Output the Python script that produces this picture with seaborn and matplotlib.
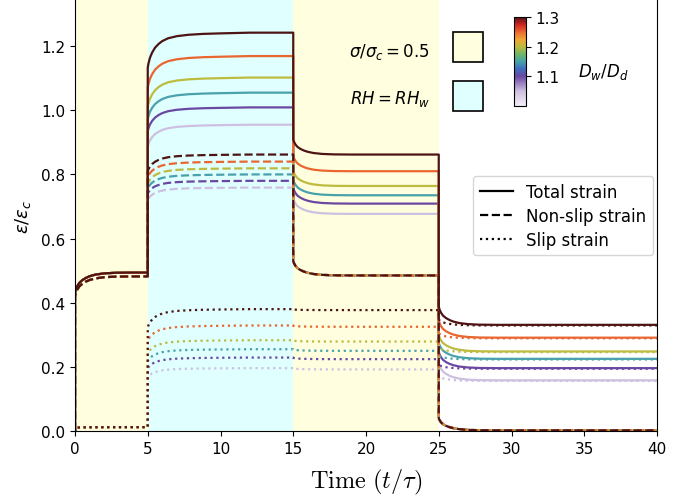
import matplotlib
matplotlib.use("Agg")
import matplotlib.pyplot as plt
import numpy as np
import pandas as pd
import seaborn as sns
from matplotlib.colors import LinearSegmentedColormap, Normalize
from matplotlib.cm import ScalarMappable
from matplotlib.lines import Line2D
from matplotlib.patches import Rectangle

# Wet/dry diffusivity ratio of each run
D_ratio = [1.05, 1.10, 1.15, 1.20, 1.25, 1.30]

# Stage boundaries: load (dry), wetting, re-drying, unloading
stage_times = [0, 5, 15, 25, 40]

# Non-slip strain: (level right after the stage switch, level at stage end)
nonslip_load = (0.42, 0.482)
nonslip_wet_start = [0.720, 0.740, 0.755, 0.770, 0.790, 0.810]
nonslip_wet_end = [0.759, 0.780, 0.800, 0.819, 0.840, 0.862]
nonslip_redry = (0.53, 0.485)
nonslip_unload = (0.04, 0.002)

# Slip strain
slip_load = (0.010, 0.012)
slip_wet_start = [0.167, 0.195, 0.217, 0.240, 0.280, 0.323]
slip_wet_end = [0.196, 0.229, 0.255, 0.283, 0.329, 0.380]
slip_redry_start = [0.195, 0.228, 0.254, 0.282, 0.328, 0.379]
slip_redry_end = [0.192, 0.224, 0.250, 0.279, 0.325, 0.377]
slip_unload_start = [0.172, 0.207, 0.236, 0.260, 0.305, 0.348]
slip_unload_end = [0.156, 0.194, 0.223, 0.246, 0.289, 0.329]

# Relaxation shape after a switch: elapsed time and fraction of the change completed
settle_dt = [0, 0.05, 0.15, 0.3, 0.5, 0.75, 1.0, 1.4, 2.0, 2.8, 4.0]
settle_frac = [0, 0.15, 0.33, 0.50, 0.63, 0.74, 0.82, 0.90, 0.96, 0.99, 1.0]
rise_dt = [0, 0.05, 0.15, 0.3, 0.5, 0.75, 1.0, 1.4, 2.0, 2.8, 3.8, 5.0, 7.0]
rise_frac = [0, 0.12, 0.28, 0.43, 0.57, 0.68, 0.76, 0.84, 0.90, 0.94, 0.965, 0.98, 1.0]

components = ["Total strain", "Non-slip strain", "Slip strain"]


def stage_points(t0, t1, start, end, dt, frac):
    keep = [i for i, d in enumerate(dt) if t0 + d < t1]
    t = [t0 + dt[i] for i in keep] + [t1]
    f = [frac[i] for i in keep] + [1.0]
    v = [start + (end - start) * x for x in f]
    return t, v


rows = []
for i, d in enumerate(D_ratio):
    ns_levels = [nonslip_load, (nonslip_wet_start[i], nonslip_wet_end[i]),
                 nonslip_redry, nonslip_unload]
    sl_levels = [slip_load, (slip_wet_start[i], slip_wet_end[i]),
                 (slip_redry_start[i], slip_redry_end[i]),
                 (slip_unload_start[i], slip_unload_end[i])]
    shapes = [(settle_dt, settle_frac), (rise_dt, rise_frac),
              (settle_dt, settle_frac), (settle_dt, settle_frac)]
    t_all, ns_all, sl_all = [0.0], [0.0], [0.0]
    for k in range(4):
        t0, t1 = stage_times[k], stage_times[k + 1]
        tt, ns = stage_points(t0, t1, *ns_levels[k], *shapes[k])
        _, sl = stage_points(t0, t1, *sl_levels[k], *shapes[k])
        t_all += tt
        ns_all += ns
        sl_all += sl
    for t, a, b in zip(t_all, ns_all, sl_all):
        rows.append((t, a + b, d, "Total strain"))
        rows.append((t, a, d, "Non-slip strain"))
        rows.append((t, b, d, "Slip strain"))

df = pd.DataFrame(rows, columns=["t", "strain", "D", "component"])

cmap = LinearSegmentedColormap.from_list("swell", [
    (0.0, "#f3eff8"), (0.1667, "#cdbfe0"), (0.333, "#6a48a2"),
    (0.42, "#3f6cc0"), (0.5, "#48a2aa"), (0.58, "#6cb46a"),
    (0.667, "#bdbb40"), (0.75, "#f2a534"), (0.833, "#ea6830"),
    (0.92, "#cc2222"), (1.0, "#4e1414")])
norm = Normalize(vmin=1.0, vmax=1.3)

W, H = 695, 502
fig = plt.figure(figsize=(W / 100, H / 100), dpi=100)
ax = fig.add_axes([75 / W, 70 / H, 582 / W, 449 / H])

ax.axvspan(0, 5, color="lightyellow", lw=0, zorder=0)
ax.axvspan(5, 15, color="lightcyan", lw=0, zorder=0)
ax.axvspan(15, 25, color="lightyellow", lw=0, zorder=0)

sns.lineplot(data=df, x="t", y="strain", hue="D", style="component",
             style_order=components,
             dashes={"Total strain": "", "Non-slip strain": (3.7, 1.6),
                     "Slip strain": (1, 1.65)},
             palette=cmap, hue_norm=norm, estimator=None, sort=False,
             lw=1.6, legend=False, ax=ax)

ax.set_xlim(0, 40)
ax.set_ylim(0, 1.4)
ax.set_xticks(np.arange(0, 41, 5))
ax.set_yticks(np.arange(0, 1.21, 0.2))
ax.tick_params(labelsize=11)
ax.set_xlabel(r"$\mathrm{Time}\ (t/\tau)$", fontsize=17.5, math_fontfamily="cm",
              labelpad=8)
ax.set_ylabel(r"$\varepsilon/\varepsilon_c$", fontsize=13)
ax.yaxis.set_label_coords(-0.072, 0.48)

handles = [Line2D([], [], color="black", lw=1.6, ls="-"),
           Line2D([], [], color="black", lw=1.6, dashes=(3.7, 1.6)),
           Line2D([], [], color="black", lw=1.6, dashes=(1, 1.65))]
ax.legend(handles, components, loc="upper left",
          bbox_to_anchor=((473 - 75) / 582, (432 - 177) / 449),
          borderaxespad=0, fontsize=12, labelspacing=0.36, borderpad=0.4)

# Stage key
fig.text(430 / W, 1 - 51.7 / H, r"$\sigma/\sigma_c = 0.5$", ha="right", va="center", fontsize=12)
fig.text(430 / W, 1 - 99 / H, r"$RH = RH_w$", ha="right", va="center", fontsize=12)
fig.add_artist(Rectangle((453 / W, 1 - 63 / H), 30 / W, 30 / H, transform=fig.transFigure,
                         facecolor="lightyellow", edgecolor="black", lw=1.2))
fig.add_artist(Rectangle((453 / W, 1 - 112 / H), 30 / W, 30 / H, transform=fig.transFigure,
                         facecolor="lightcyan", edgecolor="black", lw=1.2))

# Colour scale for the diffusivity ratio
cax = fig.add_axes([514 / W, 1 - 107 / H, 12 / W, 89 / H])
cb = fig.colorbar(ScalarMappable(norm=norm, cmap=cmap), cax=cax, ticks=[1.1, 1.2, 1.3])
cb.ax.tick_params(labelsize=11)
fig.text(603 / W, 1 - 72 / H, r"$D_w/D_d$", ha="center", va="center", fontsize=12)

fig.savefig("out.png", dpi=100)
